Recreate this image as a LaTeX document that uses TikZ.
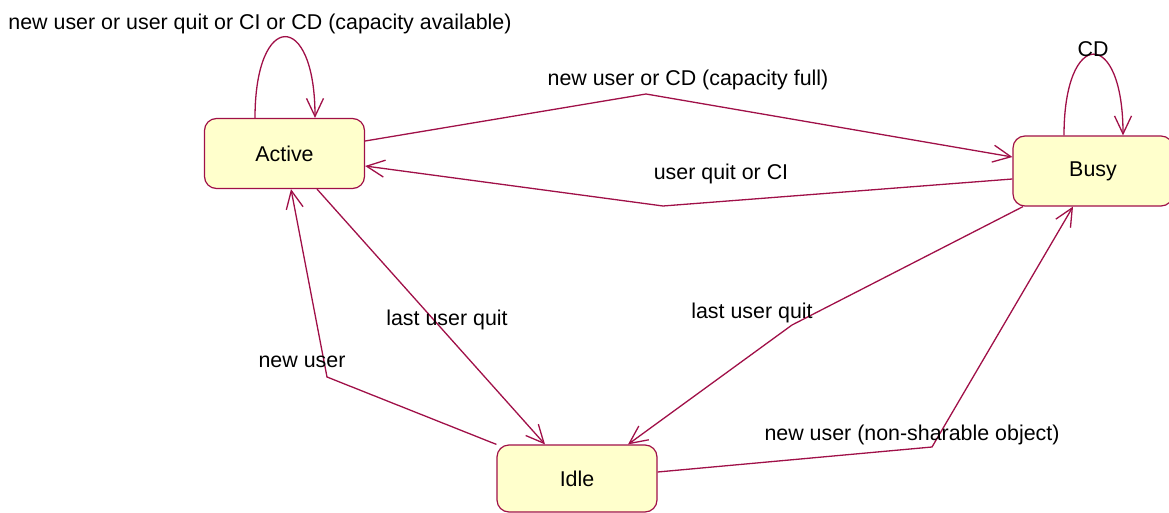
\documentclass[tikz,border=0pt]{standalone}
\usepackage{fontspec}
\setmainfont{Liberation Sans}
\usetikzlibrary{arrows.meta}
\definecolor{edgec}{RGB}{160,16,72}
\definecolor{boxfill}{RGB}{255,255,204}
\tikzset{
  state/.style={draw=edgec, fill=boxfill, line width=1.2pt, rounded corners=12pt,
    minimum width=160pt, minimum height=70pt, inner sep=0pt,
    font=\fontsize{21.4}{25}\selectfont},
  arr/.style={draw=edgec, line width=1.3pt, -{Straight Barb[length=18pt,width=17pt]}},
  lbl/.style={font=\fontsize{21.4}{25}\selectfont, inner sep=0pt}
}
\begin{document}
\begin{tikzpicture}[x=1pt,y=-1pt]
\useasboundingbox (0,0) rectangle (1169,513);
\node[state] (Active) at (284.5,153.5) {Active};
\node[state] (Busy) at (1093,171) {Busy};
\node[state, minimum height=67pt] (Idle) at (577,478.5) {Idle};
\coordinate (b1) at (646,94);
\coordinate (b2) at (663,206);
\coordinate (b3) at (792,325);
\coordinate (b4) at (327,377);
\coordinate (b5) at (932,447);
% self loops
\draw[arr] ([xshift=-29.5pt]Active.north) .. controls +(0,-108) and +(0,-108) .. ([xshift=30.5pt]Active.north);
\draw[arr] ([xshift=-29pt]Busy.north) .. controls +(0,-108) and +(0,-108) .. ([xshift=30pt]Busy.north);
% Active <-> Busy
\draw[arr] ([yshift=12.5pt]Active.east) -- (b1) -- ([yshift=14pt]Busy.west);
\draw[arr] ([yshift=-8pt]Busy.west) -- (b2) -- ([yshift=-12.5pt]Active.east);
% to Idle
\draw[arr] ([xshift=32.5pt]Active.south) -- ([xshift=-32pt]Idle.north);
\draw[arr] ([xshift=-70pt]Busy.south) -- (b3) -- ([xshift=51pt]Idle.north);
% from Idle
\draw[arr] (Idle.north west) -- (b4) -- ([xshift=6.5pt]Active.south);
\draw[arr] ([yshift=6.5pt]Idle.east) -- (b5) -- ([xshift=-20pt]Busy.south);
% labels
\node[lbl] (l1) at (260,24) {new user or user quit or CI or CD (capacity available)};
\node[lbl] (l2) at (1093,49) {CD};
\node[lbl] (l3) at (688,80) {new user or CD (capacity full)};
\node[lbl] (l4) at (721,174) {user quit or CI};
\node[lbl] (l5) at (447,320) {last user quit};
\node[lbl] (l6) at (752,313) {last user quit};
\node[lbl] (l7) at (302,362) {new user};
\node[lbl] (l8) at (912,435) {new user (non-sharable object)};
\end{tikzpicture}
\end{document}
